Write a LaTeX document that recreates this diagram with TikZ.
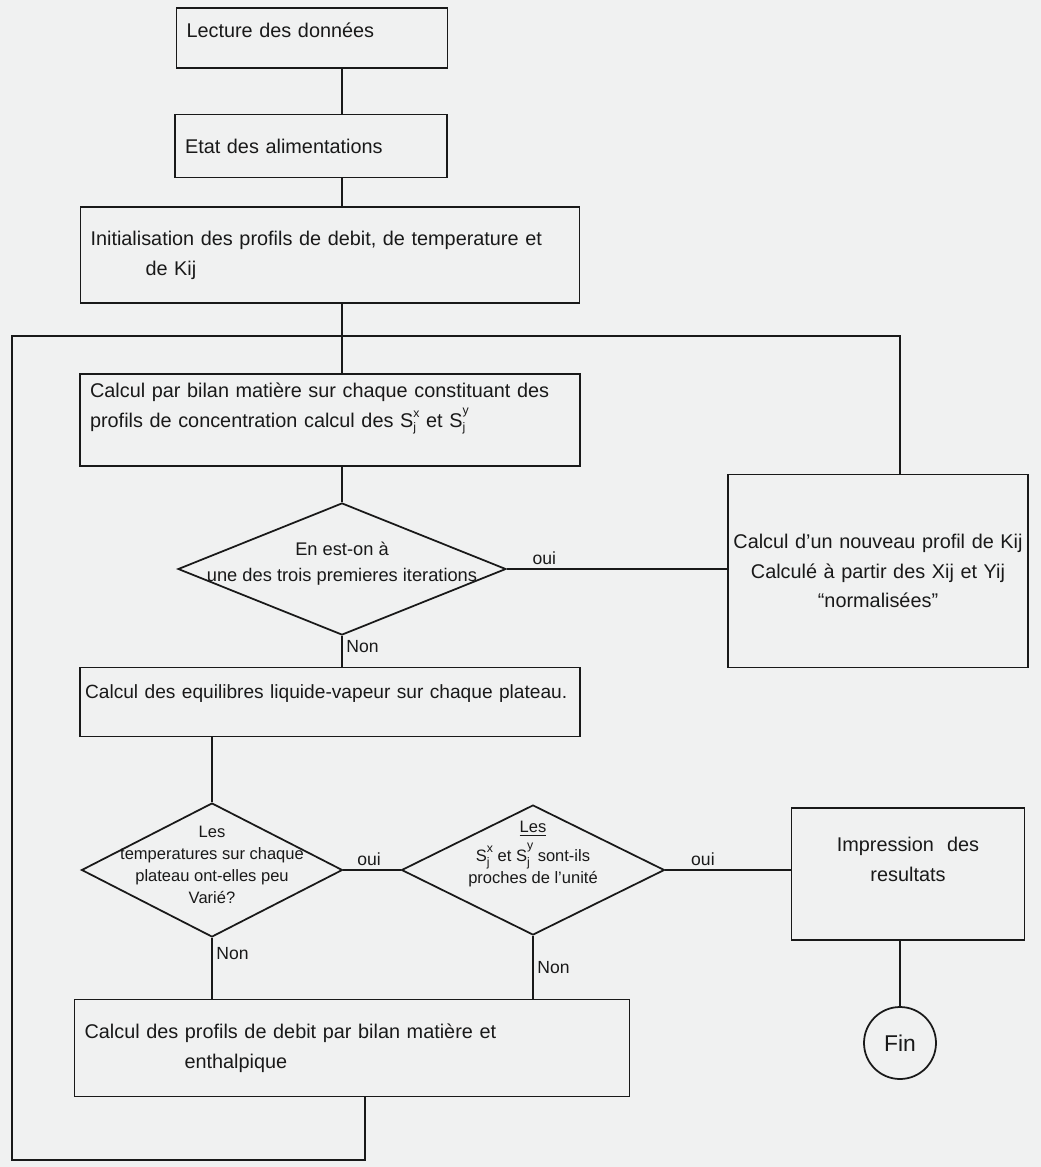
\documentclass[tikz,border=0pt]{standalone}
\usepackage{fontspec}
\setmainfont{Liberation Sans}
\usetikzlibrary{shapes.geometric}
\definecolor{paper}{RGB}{240,241,241}
\definecolor{ink}{RGB}{25,25,25}
\newcommand{\Sxj}[1]{S\raisebox{-2.5pt}{\shortstack[l]{\scriptsize #1\\\scriptsize j}}}

\begin{document}
\begin{tikzpicture}[x=0.02cm, y=-0.02cm, line width=1pt, draw=ink, text=ink,
  box/.style={draw, rectangle, inner xsep=0.2cm, inner ysep=2pt, align=left, font=\fontsize{11.3}{17}\selectfont},
  decision/.style={draw, diamond, inner sep=0pt},
  dtext/.style={align=center, font=\fontsize{9.4}{12.5}\selectfont},
  lab/.style={font=\fontsize{10}{12}\selectfont, inner sep=2pt}]
\fill[paper] (0,0) rectangle (1041,1167);

\node[box, text width=5.02cm, minimum height=1.2cm] (lect) at (312,38) {Lecture des données\\[-8pt]\mbox{}};
\node[box, text width=5.04cm, minimum height=1.26cm] (etat) at (311,146) {Etat des alimentations};
\node[box, text width=9.58cm, minimum height=1.92cm] (init) at (330,255) {Initialisation des profils de debit, de temperature et\\\hspace*{1.1cm}de Kij};
\node[box, text width=9.6cm, minimum height=1.84cm] (bilan) at (330,420) {Calcul par bilan matière sur chaque constituant des\\profils de concentration calcul des \Sxj{x} et \Sxj{y}\\\mbox{}};
\node[decision, minimum width=6.56cm, minimum height=2.64cm,
  label={[dtext, font=\fontsize{10.4}{15}\selectfont, yshift=3pt]center:En est-on à\\une des trois premieres iterations}] (d1) at (342,569) {};
\node[box, align=center, inner xsep=0.1cm, text width=5.8cm, minimum height=3.86cm] (nouv) at (878,571) {Calcul d'un nouveau profil de Kij\\Calculé à partir des Xij et Yij\\“normalisées”};
\node[box, inner xsep=0.1cm, text width=9.8cm, minimum height=1.38cm, font=\fontsize{10.9}{17}\selectfont] (equi) at (330,702) {Calcul des equilibres liquide-vapeur sur chaque plateau.\\[-5pt]\mbox{}};
\node[decision, minimum width=5.22cm, minimum height=2.68cm,
  label={[dtext, yshift=3pt]center:Les\\temperatures sur chaque\\plateau ont-elles peu\\Varié?}] (d2) at (212,870) {};
\node[decision, minimum width=5.26cm, minimum height=2.6cm,
  label={[dtext, yshift=9pt]center:\underline{Les}\\[3pt]\Sxj{x} et \Sxj{y} sont-ils\\proches de l'unité}] (d3) at (533,870) {};
\node[box, align=center, text width=4.26cm, minimum height=2.64cm] (impr) at (908,874) {Impression \ des\\resultats\\\mbox{}};
\node[draw, circle, minimum size=1.44cm, inner sep=0pt, font=\fontsize{13}{15}\selectfont] (fin) at (900,1043) {Fin};
\node[box, text width=10.7cm, minimum height=1.94cm] (debit) at (352,1048) {Calcul des profils de debit par bilan matière et\\\hspace*{2cm}enthalpique};

% liaisons
\coordinate (jct) at (342,336);
\coordinate (tr) at (900,336);
\coordinate (tl) at (12,336);
\coordinate (bl) at (12,1160);
\coordinate (ret) at (365,1160);

\draw (lect.south -| jct) -- (etat.north -| jct);
\draw (etat.south -| jct) -- (init.north -| jct);
\draw (init.south -| jct) -- (bilan.north -| jct);
\draw (bilan.south -| jct) -- (d1.north);
\draw (d1.east) -- node[lab, above, pos=0.17] {oui} (nouv.west |- d1.east);
\draw (d1.south) -- node[lab, right, pos=0.35] {Non} (d1.south |- equi.north);
\draw (d2.north |- equi.south) -- (d2.north);
\draw (d2.east) -- node[lab, above, pos=0.45] {oui} (d3.west);
\draw (d3.east) -- node[lab, above, pos=0.3] {oui} (impr.west |- d3.east);
\draw (impr.south -| fin.north) -- (fin.north);
\draw (d2.south) -- node[lab, right, pos=0.25] {Non} (d2.south |- debit.north);
\draw (d3.south) -- node[lab, right, pos=0.5] {Non} (d3.south |- debit.north);
\draw (debit.south -| ret) -- (ret) -- (bl) -- (tl) -- (jct);
\draw (jct) -- (tr) -- (tr |- nouv.north);
\end{tikzpicture}
\end{document}
